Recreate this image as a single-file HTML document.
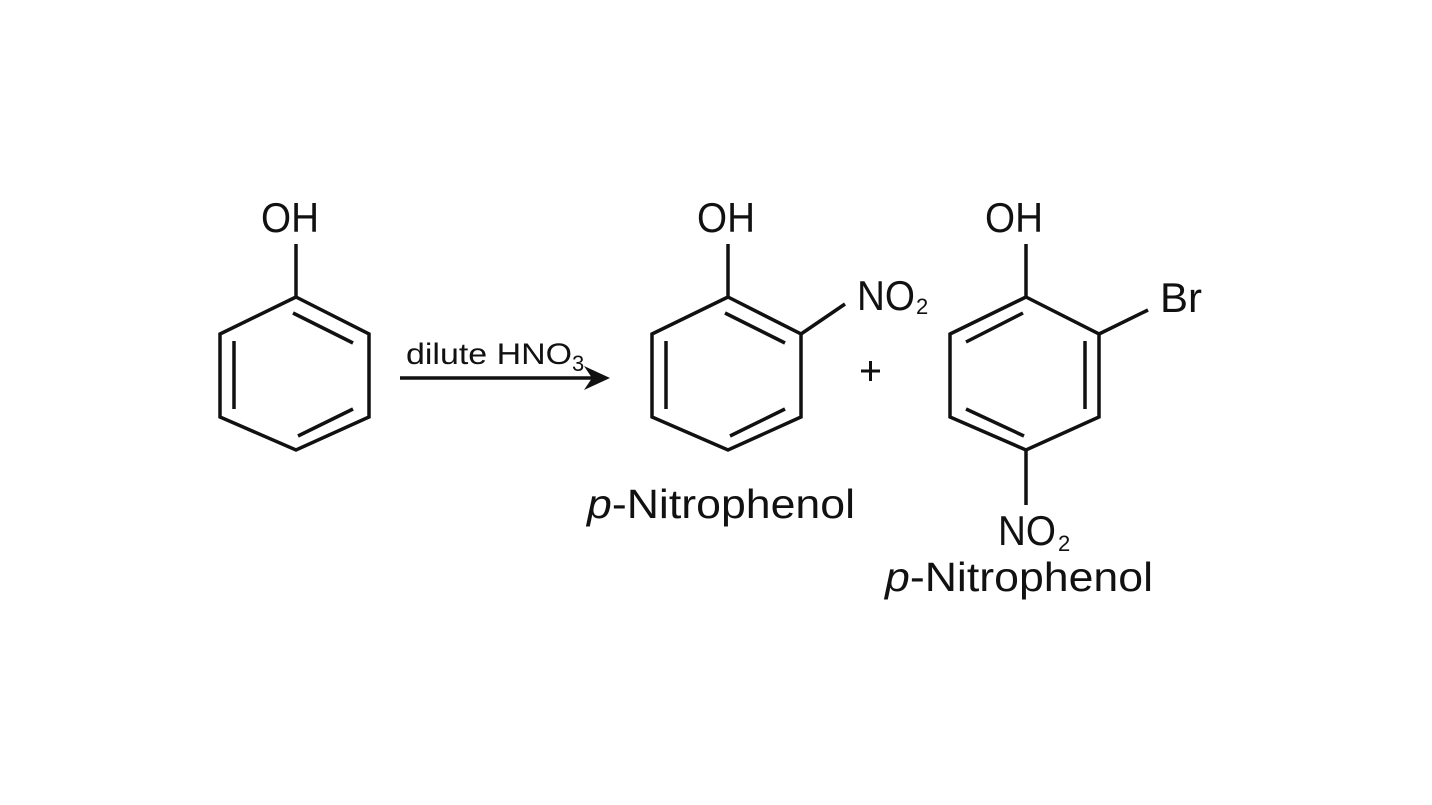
<!DOCTYPE html>
<html><head><meta charset="utf-8"><style>html,body{margin:0;padding:0;background:#fff}svg{display:block}</style></head>
<body>
<svg width="1432" height="805" viewBox="0 0 1432 805" xmlns="http://www.w3.org/2000/svg" font-family="Liberation Sans, sans-serif" fill="#111">
<g stroke="#111" stroke-width="3.5" fill="none" stroke-linejoin="miter">
<polygon points="296,297 369,334 369,417 296,450 220,417 220,334"/>
<line x1="296" y1="244" x2="296" y2="297"/>
<line x1="293" y1="313" x2="353" y2="343"/>
<line x1="234" y1="341" x2="234" y2="409"/>
<line x1="298" y1="436" x2="353" y2="409"/>
<line x1="400" y1="378" x2="596" y2="378"/>
<polygon points="728,297 801,334 801,417 728,450 652,417 652,334"/>
<line x1="728" y1="244" x2="728" y2="297"/>
<line x1="725" y1="313" x2="785" y2="343"/>
<line x1="666" y1="341" x2="666" y2="409"/>
<line x1="730" y1="436" x2="785" y2="409"/>
<line x1="801" y1="334" x2="845" y2="304"/>
<polygon points="1026,297 1099,334 1099,417 1026,450 950,417 950,334"/>
<line x1="1026" y1="244" x2="1026" y2="297"/>
<line x1="1023" y1="313" x2="966" y2="342"/>
<line x1="1085" y1="341" x2="1085" y2="409"/>
<line x1="1024" y1="436" x2="966" y2="409"/>
<line x1="1099" y1="334" x2="1148" y2="310"/>
<line x1="1026" y1="450" x2="1026" y2="505"/>
<line x1="861" y1="371" x2="880" y2="371" stroke-width="3"/>
<line x1="870.5" y1="361" x2="870.5" y2="381" stroke-width="3"/>
</g>
<polygon points="610,378 584,366 592,378 584,390" fill="#111"/>
<g font-size="42">
<text x="261" y="232" textLength="58" lengthAdjust="spacingAndGlyphs">OH</text>
<text x="697" y="232" textLength="58" lengthAdjust="spacingAndGlyphs">OH</text>
<text x="985" y="232" textLength="58" lengthAdjust="spacingAndGlyphs">OH</text>
<text x="857" y="310" textLength="58" lengthAdjust="spacingAndGlyphs">NO</text>
<text x="1160" y="312" textLength="42" lengthAdjust="spacingAndGlyphs">Br</text>
<text x="998" y="545" textLength="58" lengthAdjust="spacingAndGlyphs">NO</text>
</g>
<g font-size="22">
<text x="916" y="314">2</text>
<text x="1058" y="551">2</text>
<text x="572" y="371">3</text>
</g>
<text x="406" y="364" font-size="30" textLength="166" lengthAdjust="spacingAndGlyphs">dilute HNO</text>
<text x="587" y="518" font-size="41" textLength="268" lengthAdjust="spacingAndGlyphs"><tspan font-style="italic">p</tspan>-Nitrophenol</text>
<text x="885" y="591" font-size="41" textLength="268" lengthAdjust="spacingAndGlyphs"><tspan font-style="italic">p</tspan>-Nitrophenol</text>
</svg>
</body></html>
